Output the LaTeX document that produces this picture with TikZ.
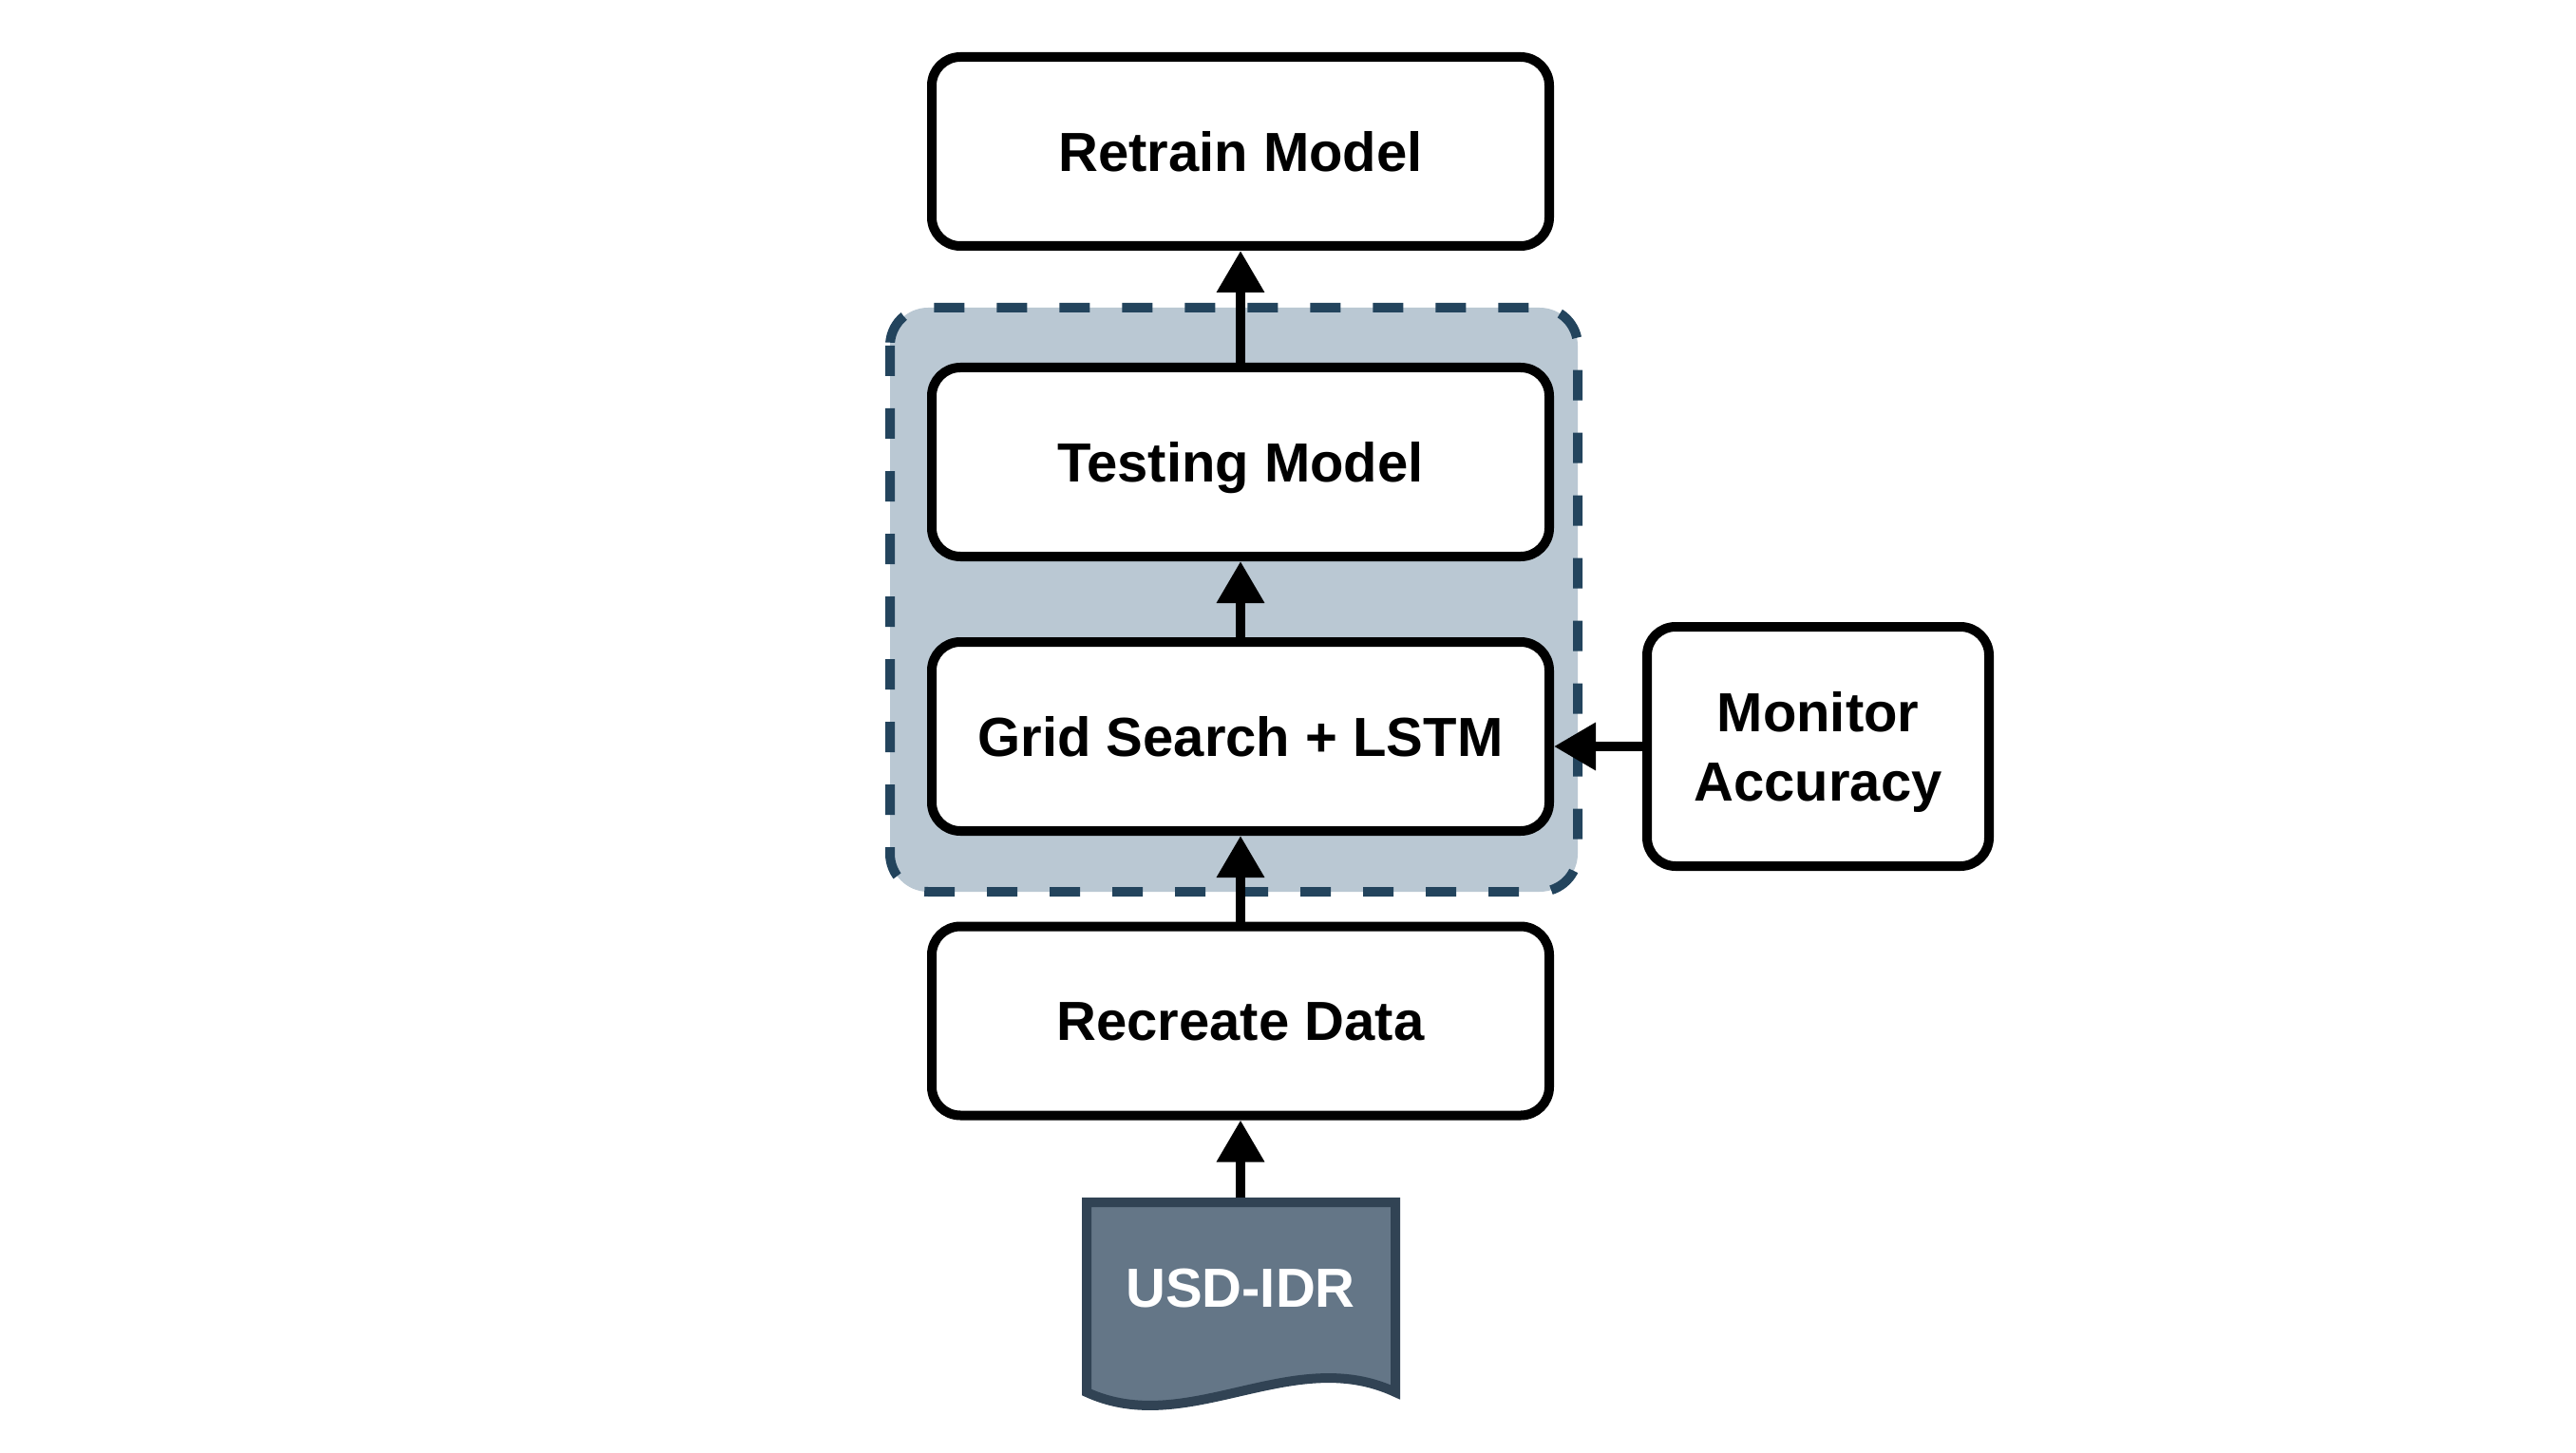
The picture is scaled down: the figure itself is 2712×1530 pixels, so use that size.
\documentclass[tikz,border=0pt]{standalone}
\usepackage{fontspec}
\setmainfont{Liberation Sans}
\usetikzlibrary{arrows.meta,calc}
\definecolor{slatefill}{HTML}{647687}
\definecolor{slateline}{HTML}{314354}
\definecolor{groupfill}{HTML}{BAC8D3}
\definecolor{groupline}{HTML}{23445D}
\newcommand\boxfont{\fontsize{14.5pt}{18.25pt}\selectfont\bfseries}
\begin{document}
\begin{tikzpicture}[x=0.25pt,y=-0.25pt,
  box/.style={draw=black, line width=2.5pt, rounded corners=7.5pt, fill=white,
    minimum width=162.5pt, minimum height=49.75pt, align=center, font=\boxfont,
    inner sep=0pt, text height=10.4pt, text depth=0pt},
  sidebox/.style={box, minimum width=90pt, minimum height=63pt, text height=28.65pt, text depth=0pt},
  groupbox/.style={fill=groupfill, draw=groupline, line width=2.5pt, rounded corners=10pt,
    dash pattern=on 8pt off 8.5pt},
  docshape/.style={fill=slatefill, draw=slateline, line width=2.5pt, line join=miter},
  doctext/.style={text=white, font=\boxfont, inner sep=0pt, text height=10.4pt, text depth=0pt},
  flow/.style={-{Triangle[width=12pt,length=11pt]}, line width=2.5pt, draw=black},
]
\useasboundingbox (0,0) rectangle (2712,1530);
% group container
\draw[groupbox] (937,324) rectangle (1661,939);
% boxes
\node[box] (rt) at (1306,159.5) {Retrain Model};
\node[box] (tm) at (1306,486.5) {Testing Model};
\node[box] (gs) at (1306,775.5) {Grid Search + LSTM};
\node[box] (rd) at (1306,1075) {Recreate Data};
\node[sidebox] (ma) at (1914,786) {Monitor\\Accuracy};
% document shape
\draw[docshape] (1144,1266) -- (1469,1266) -- (1469,1466)
  .. controls (1360,1415) and (1250,1515) .. (1144,1466) -- cycle;
\node[doctext] (doc) at (1306,1356) {USD-IDR};
\coordinate (doctop) at (1306,1261);
% connectors
\draw[flow] (doctop) -- (rd.south);
\draw[flow] (rd.north) -- (gs.south);
\draw[flow] (gs.north) -- (tm.south);
\draw[flow] (tm.north) -- (rt.south);
\draw[flow] (ma.west) -- (ma.west -| gs.east);
\end{tikzpicture}
\end{document}
